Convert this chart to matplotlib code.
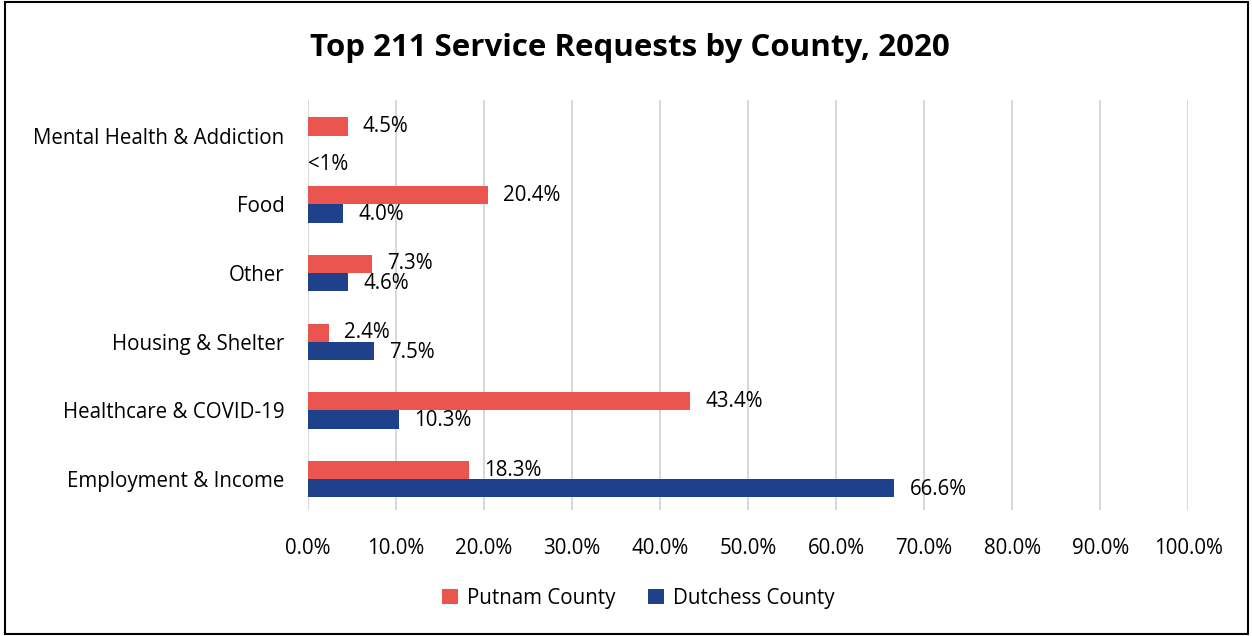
import matplotlib
matplotlib.use("Agg")
import matplotlib.pyplot as plt
import numpy as np
from matplotlib.patches import Rectangle

categories = ["Employment & Income", "Healthcare & COVID-19", "Housing & Shelter",
              "Other", "Food", "Mental Health & Addiction"]
putnam = [18.3, 43.4, 2.4, 7.3, 20.4, 4.5]
dutchess = [66.6, 10.3, 7.5, 4.6, 4.0, 0.0]
putnam_labels = ["18.3%", "43.4%", "2.4%", "7.3%", "20.4%", "4.5%"]
dutchess_labels = ["66.6%", "10.3%", "7.5%", "4.6%", "4.0%", "<1%"]
xticks = [0, 10, 20, 30, 40, 50, 60, 70, 80, 90, 100]
xtick_labels = [f"{v:.1f}%" for v in xticks]

RED = "#EB5550"
BLUE = "#1F418C"
FONT = "Open Sans"
plt.rcParams['font.family'] = [FONT, 'DejaVu Sans']
FS = 14.8

fig = plt.figure(figsize=(12.52, 6.36), dpi=100)
ax = fig.add_axes([0.246, 0.198, 0.703, 0.645])

y = np.arange(len(categories))
h = 0.265
ax.barh(y + h / 2, putnam, height=h, color=RED, label="Putnam County", zorder=3)
ax.barh(y - h / 2, dutchess, height=h, color=BLUE, label="Dutchess County", zorder=3)

for yi, v, t in zip(y, putnam, putnam_labels):
    ax.annotate(t, (v, yi + h / 2), xytext=(11, 0), textcoords="offset points",
                ha="left", va="center", fontsize=FS, color="black")
for yi, v, t in zip(y, dutchess, dutchess_labels):
    if v > 0:
        off = (11, -1)
    else:
        off = (0, -14)
    ax.annotate(t, (v, yi - h / 2), xytext=off, textcoords="offset points",
                ha="left", va="center", fontsize=FS, color="black")

ax.set_xlim(0, 100)
ax.set_ylim(-0.45, 5.52)
ax.set_xticks(xticks)
ax.set_xticklabels(xtick_labels, fontsize=FS)
ax.set_yticks(y)
ax.set_yticklabels(categories, fontsize=FS)
ax.tick_params(length=0)
ax.tick_params(axis="x", pad=20)
ax.tick_params(axis="y", pad=17)
ax.grid(axis="x", color="#D9D9D9", linewidth=1.5, zorder=0)
for s in ax.spines.values():
    s.set_visible(False)

fig.text(0.503, 0.925, "Top 211 Service Requests by County, 2020", ha="center", va="center",
         fontsize=22.5, fontweight="bold")

ax.legend(loc="center", bbox_to_anchor=(0.375, -0.215), ncol=2, frameon=False,
          fontsize=FS, handlelength=0.8, handleheight=0.8, handletextpad=0.4,
          columnspacing=1.6)

fig.patches.append(Rectangle((0.004, 0.003), 0.993, 0.994, transform=fig.transFigure,
                             fill=False, edgecolor="black", linewidth=1.5))

fig.savefig("out.png", dpi=100)
